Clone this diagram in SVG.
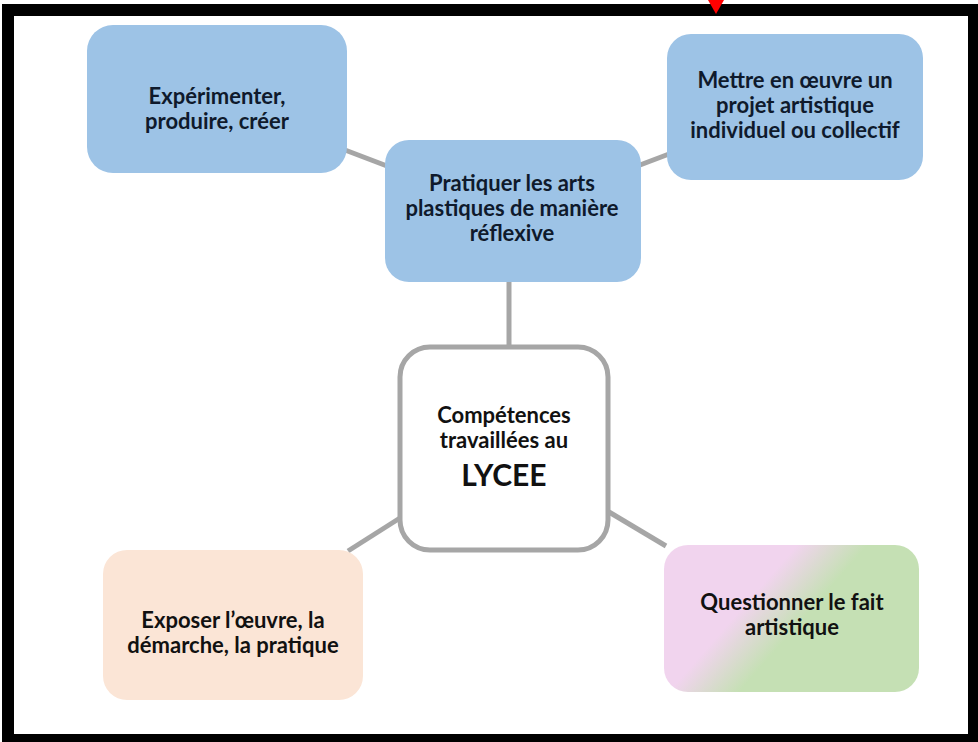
<svg xmlns="http://www.w3.org/2000/svg" width="978" height="742" viewBox="0 0 978 742">
<defs>
<linearGradient id="qgrad" gradientUnits="userSpaceOnUse" x1="749" y1="600" x2="789" y2="635">
<stop offset="0" stop-color="#F1D4EE"/>
<stop offset="1" stop-color="#C5E0B4"/>
</linearGradient>
</defs>
<style>
.blue{fill:#9DC3E6;}
.t{font-family:Lato,"Open Sans","Liberation Sans",sans-serif;font-weight:bold;font-size:22px;text-anchor:middle;fill:#111;}
.tb{fill:#0f1a2c;}
.conn line{stroke:#A6A6A6;stroke-width:5;}
</style>
<rect x="0" y="0" width="978" height="742" fill="#fff"/>
<rect x="2" y="4" width="976" height="738" fill="#000"/>
<rect x="14" y="16" width="954" height="718" fill="#fff"/>
<polygon points="708,0 724,0 716,14" fill="#FF0000"/>
<g class="conn" id="connectors">
<line x1="345" y1="150" x2="387" y2="166"/>
<line x1="640" y1="165" x2="669" y2="154"/>
<line x1="509" y1="282" x2="509" y2="346"/>
<line x1="348" y1="551" x2="400" y2="518"/>
<line x1="609" y1="512" x2="666" y2="546"/>
</g>
<g id="node-experimenter">
<rect class="blue" x="87" y="25" width="260" height="148" rx="26"/>
<text class="t tb" x="217" y="104">Expérimenter,</text>
<text class="t tb" x="217" y="129">produire, créer</text>
</g>
<g id="node-pratiquer">
<rect class="blue" x="385" y="140" width="256" height="142" rx="24"/>
<text class="t tb" x="512" y="191">Pratiquer les arts</text>
<text class="t tb" x="512" y="216">plastiques de manière</text>
<text class="t tb" x="512" y="241">réflexive</text>
</g>
<g id="node-mettre">
<rect class="blue" x="667" y="34" width="256" height="146" rx="24"/>
<text class="t tb" x="795" y="88">Mettre en œuvre un</text>
<text class="t tb" x="795" y="113">projet artistique</text>
<text class="t tb" x="795" y="138">individuel ou collectif</text>
</g>
<g id="node-center">
<rect x="400" y="347" width="208" height="203" rx="30" fill="#fff" stroke="#A6A6A6" stroke-width="5"/>
<text class="t" x="504" y="423">Compétences</text>
<text class="t" x="504" y="448">travaillées au</text>
<text class="t" x="504" y="486" style="font-size:30px">LYCEE</text>
</g>
<g id="node-exposer">
<rect x="103" y="550" width="260" height="150" rx="24" fill="#FBE5D6"/>
<text class="t" x="233" y="628">Exposer l’œuvre, la</text>
<text class="t" x="233" y="653">démarche, la pratique</text>
</g>
<g id="node-questionner">
<rect x="664" y="545" width="255" height="147" rx="24" fill="url(#qgrad)"/>
<text class="t" x="792" y="610">Questionner le fait</text>
<text class="t" x="792" y="635">artistique</text>
</g>
</svg>
